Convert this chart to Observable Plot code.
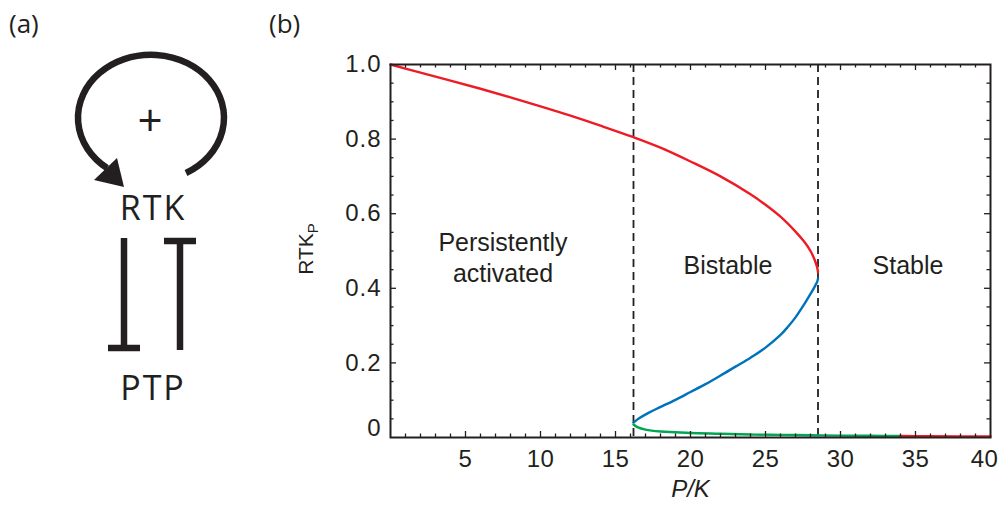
<!DOCTYPE html>
<html>
<head>
<meta charset="utf-8">
<script src="https://cdn.jsdelivr.net/npm/d3@7"></script>
<script src="https://cdn.jsdelivr.net/npm/@observablehq/plot@0.6"></script>
<style>
  html, body { margin: 0; padding: 0; background: #fff; }
  #wrap { position: relative; width: 1002px; height: 506px; overflow: hidden; }
  #wrap > svg { position: absolute; left: 0; top: 0; }
</style>
</head>
<body>
<div id="wrap"></div>
<script>
// ---- data ----
// Upper (stable, high) branch  - red
const upperX = [0, 2, 4, 6, 8, 10, 12, 14, 16.2, 18, 20, 22, 24, 25, 26, 27, 27.6, 28, 28.3, 28.45, 28.5];
const upperY = [1.0, 0.978, 0.957, 0.935, 0.912, 0.888, 0.863, 0.836, 0.805, 0.777, 0.74, 0.7, 0.652, 0.624, 0.592, 0.552, 0.524, 0.5, 0.474, 0.455, 0.443];
// Middle (unstable) branch - blue
const middleX = [16.2, 16.6, 17.2, 17.9, 19, 20, 21, 22, 23, 24, 25, 26, 26.5, 27, 27.5, 28, 28.3, 28.45, 28.5];
const middleY = [0.04, 0.052, 0.066, 0.08, 0.101, 0.122, 0.143, 0.166, 0.19, 0.214, 0.241, 0.275, 0.297, 0.322, 0.352, 0.385, 0.406, 0.418, 0.426];
// Lower (stable, low) branch - green
const lowerX = [16.2, 16.5, 17, 18, 19, 20, 22, 24, 26, 28, 30, 32, 34];
const lowerY = [0.035, 0.027, 0.021, 0.016, 0.014, 0.012, 0.01, 0.008, 0.007, 0.006, 0.005, 0.0045, 0.004];
// Single stable state beyond the green segment - red tail
const tailX = [34, 36, 38, 40];
const tailY = [0.004, 0.0035, 0.003, 0.0025];
// Bifurcation points (dashed lines)
const foldX = [16.2, 28.5];
// Region labels
const regionText = ["Persistently\nactivated", "Bistable", "Stable"];
const regionX = [7.5, 22.5, 34.5];
const regionY = [0.485, 0.466, 0.466];
// Ticks
const xTicks = [5, 10, 15, 20, 25, 30, 35];
const xLastTick = [40];
const yTicks = [0.2, 0.4, 0.6, 0.8, 1.0];
const yZero = [0];

const toPts = (xs, ys) => xs.map((x, i) => ({x, y: ys[i]}));
const upper = toPts(upperX, upperY);
const middle = toPts(middleX, middleY);
const lower = toPts(lowerX, lowerY);
const tail = toPts(tailX, tailY);
const regions = regionText.map((t, i) => ({t, x: regionX[i], y: regionY[i]}));

const RED = "#ed1c24", BLUE = "#0072bc", GREEN = "#00a651";
const mT = 64, mB = 69, mL = 390, mR = 12, H = 506, W = 1002;
const fh = H - mT - mB;
const fw = W - mL - mR;

const xMinor = d3.range(1, 40).filter(d => d % 5 !== 0);
const xMajor = d3.range(5, 40, 5);
const yMinor = d3.range(1, 20).filter(d => d % 4 !== 0).map(d => d / 20);
const yMajor = [0.2, 0.4, 0.6, 0.8];
const MAJ = 6, MIN = 3.5;

const font = "'Liberation Sans', Arial, Helvetica, sans-serif";
const INK = "#231f20";

const chart = Plot.plot({
  width: W, height: H,
  marginLeft: mL, marginRight: mR, marginTop: mT, marginBottom: mB,
  x: {domain: [0, 40]},
  y: {domain: [0, 1]},
  style: {fontFamily: font, background: "transparent", color: INK},
  marks: [
    Plot.ruleX(foldX, {x: d => d, stroke: INK, strokeWidth: 1.8, strokeDasharray: "8,5"}),
    Plot.line(upper, {x: "x", y: "y", stroke: RED, strokeWidth: 2.4, curve: "catmull-rom"}),
    Plot.line(middle, {x: "x", y: "y", stroke: BLUE, strokeWidth: 2.4, curve: "catmull-rom"}),
    Plot.line(lower, {x: "x", y: "y", stroke: GREEN, strokeWidth: 2.4, curve: "catmull-rom"}),
    Plot.line(tail, {x: "x", y: "y", stroke: RED, strokeWidth: 2.4, curve: "catmull-rom"}),
    // inward ticks on all four sides
    Plot.tickX(xMajor, {x: d => d, insetTop: fh - MAJ, stroke: INK, strokeWidth: 1.3}),
    Plot.tickX(xMinor, {x: d => d, insetTop: fh - MIN, stroke: INK, strokeWidth: 1.3}),
    Plot.tickX(xMajor, {x: d => d, insetBottom: fh - MAJ, stroke: INK, strokeWidth: 1.3}),
    Plot.tickX(xMinor, {x: d => d, insetBottom: fh - MIN, stroke: INK, strokeWidth: 1.3}),
    Plot.tickY(yMajor, {y: d => d, insetRight: fw - MAJ, stroke: INK, strokeWidth: 1.3}),
    Plot.tickY(yMinor, {y: d => d, insetRight: fw - MIN, stroke: INK, strokeWidth: 1.3}),
    Plot.tickY(yMajor, {y: d => d, insetLeft: fw - MAJ, stroke: INK, strokeWidth: 1.3}),
    Plot.tickY(yMinor, {y: d => d, insetLeft: fw - MIN, stroke: INK, strokeWidth: 1.3}),
    Plot.frame({stroke: INK, strokeWidth: 2}),
    Plot.axisX({ticks: xTicks, tickSize: 0, tickPadding: 12, fontSize: 24, label: null, tickFormat: d => String(d)}),
    Plot.axisX({ticks: xLastTick, tickSize: 0, tickPadding: 12, fontSize: 24, label: null, dx: -6, tickFormat: d => String(d)}),
    Plot.axisY({ticks: yTicks, tickSize: 0, tickPadding: 9, fontSize: 24, label: null, tickFormat: d => d.toFixed(1)}),
    Plot.axisY({ticks: yZero, tickSize: 0, tickPadding: 9, fontSize: 24, label: null, dy: -9, tickFormat: () => "0"}),
    Plot.text(regions, {x: "x", y: "y", text: "t", fontSize: 25, fill: INK, lineHeight: 1.24}),
    Plot.text(["P/K"], {frameAnchor: "bottom", dy: 59, fontSize: 24, fontStyle: "italic", fill: INK})
  ]
});

document.getElementById("wrap").appendChild(chart);

const svgSel = d3.select(chart);
svgSel.selectAll('g[aria-label="y-axis tick label"] text').attr("letter-spacing", 1);
svgSel.selectAll('g[aria-label="x-axis tick label"] text').attr("letter-spacing", 0.5);

// y-axis label with subscript
const yl = svgSel.append("text")
  .attr("transform", "translate(313,249) rotate(-90)")
  .attr("text-anchor", "middle")
  .attr("font-family", font)
  .attr("font-size", 21)
  .attr("fill", INK);
yl.append("tspan").text("RTK");
yl.append("tspan").attr("font-size", 15).attr("dy", 5).text("P");

// ---- panel (a): schematic diagram + panel letters ----
const diag = d3.select("#wrap").append("svg")
  .attr("width", W).attr("height", H)
  .style("pointer-events", "none");
const dfont = "'Open Sans', 'Noto Sans', sans-serif";
diag.append("text").attr("x", 9).attr("y", 33).attr("font-family", dfont).attr("font-size", 26).attr("fill", INK).text("(a)");
diag.append("text").attr("x", 269).attr("y", 33).attr("font-family", dfont).attr("font-size", 26).attr("fill", INK).text("(b)");
// circular positive-feedback arrow
diag.append("path")
  .attr("d", "M186,173 A73,63 0 1,0 107,168")
  .attr("fill", "none").attr("stroke", INK).attr("stroke-width", 6.5);
diag.append("path")
  .attr("d", "M124,187 L94,180 L117,158 Z")
  .attr("fill", INK);
diag.append("text").attr("x", 150).attr("y", 136).attr("text-anchor", "middle")
  .attr("font-family", dfont).attr("font-size", 44).attr("fill", INK).text("+");
diag.append("text").attr("x", 153).attr("y", 220).attr("text-anchor", "middle")
  .attr("font-family", dfont).attr("font-size", 34).attr("letter-spacing", 2).attr("fill", INK).text("RTK");
diag.append("text").attr("x", 153).attr("y", 400).attr("text-anchor", "middle")
  .attr("font-family", dfont).attr("font-size", 34).attr("letter-spacing", 2).attr("fill", INK).text("PTP");
// inhibition bars
diag.append("line").attr("x1", 124).attr("y1", 238).attr("x2", 124).attr("y2", 346).attr("stroke", INK).attr("stroke-width", 6.5);
diag.append("line").attr("x1", 108).attr("y1", 348).attr("x2", 140).attr("y2", 348).attr("stroke", INK).attr("stroke-width", 6.5);
diag.append("line").attr("x1", 180).attr("y1", 242).attr("x2", 180).attr("y2", 350).attr("stroke", INK).attr("stroke-width", 6.5);
diag.append("line").attr("x1", 164).attr("y1", 241).attr("x2", 196).attr("y2", 241).attr("stroke", INK).attr("stroke-width", 6.5);
</script>
</body>
</html>
